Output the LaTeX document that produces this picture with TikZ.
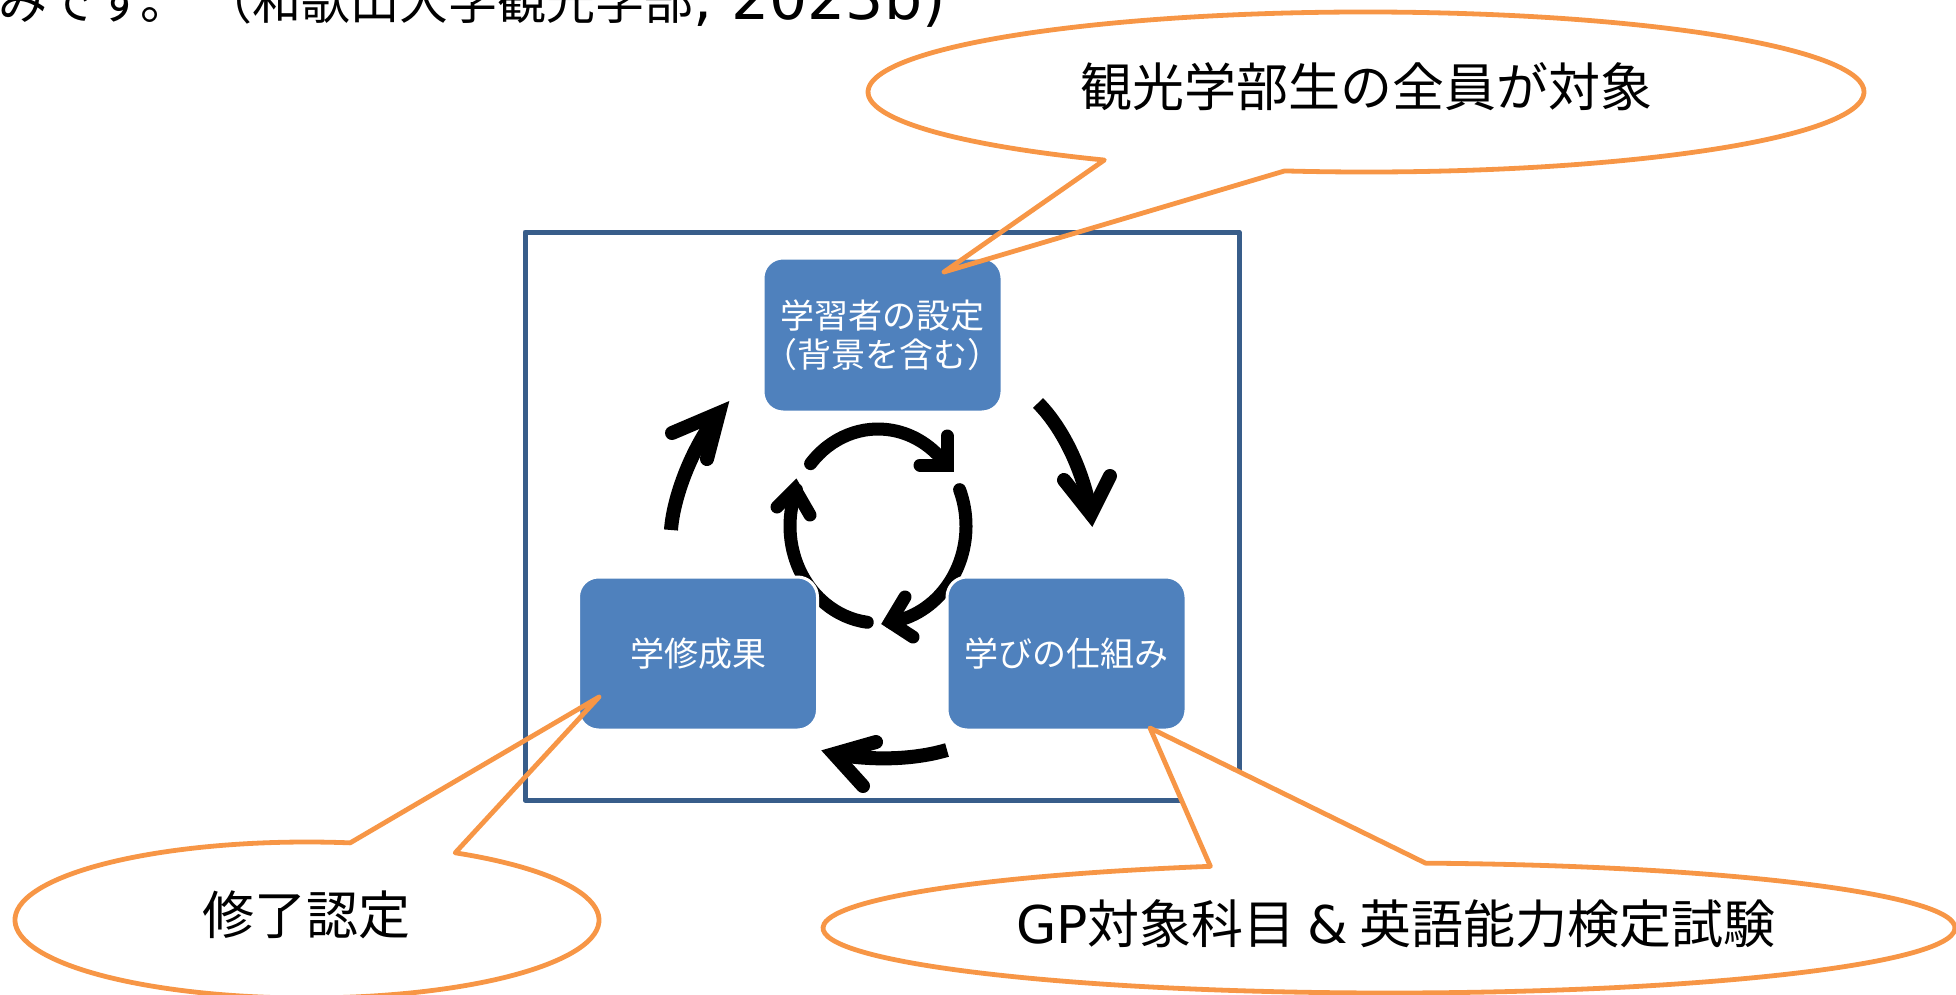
\documentclass[tikz,border=0pt]{standalone}
\usepackage{fontspec}
\newfontfamily\cjk{Noto Sans CJK JP}
\newfontfamily\lat{DejaVu Sans}
\usetikzlibrary{calc}
\definecolor{boxblue}{HTML}{4F81BD}
\definecolor{framebl}{HTML}{385D8A}
\definecolor{callor}{HTML}{F79646}
\begin{document}
\begin{tikzpicture}[x=1pt,y=1pt,
  bluebox/.style={rectangle, rounded corners=20pt, fill=boxblue, draw=white, line width=3pt,
    minimum width=239pt, minimum height=154pt, text=white, align=center, inner sep=0pt,
    font={\cjk\fontsize{34}{39}\selectfont}},
  bigarrow/.style={line width=14pt, black},
  barbs/.style={line width=14pt, black, line cap=round, line join=miter},
  cycarc/.style={line width=13pt, black, line cap=round},
  cychev/.style={line width=13pt, black, line cap=round, line join=miter},
  calloutline/.style={draw=callor, line width=4.8pt, line join=round},
  bigtext/.style={font={\cjk\fontsize{52}{60}\selectfont}, text=black, inner sep=0pt}
]
\useasboundingbox (0,0) rectangle (1956,-995);
\clip (0,0) rectangle (1956,-995);

% outer frame
\draw[framebl, line width=5pt, line join=round] (525,-232) rectangle (1239,-800);

% inner cycle
\coordinate (cc) at (878,-526);
\draw[cycarc] ($(cc)+(140:88 and 97)$) arc[start angle=140, end angle=39, x radius=88, y radius=97];
\draw[cychev] (947,-436) -- (947,-465) -- (920,-465);
\draw[cycarc] ($(cc)+(22:88 and 97)$) arc[start angle=22, end angle=-82, x radius=88, y radius=97];
\draw[cychev] (905,-597) -- (890,-622) -- (913,-637);
\draw[cycarc] ($(cc)+(-97:88 and 97)$) arc[start angle=-97, end angle=-202, x radius=88, y radius=97];
\draw[cychev] (777,-507) -- (795,-489) -- (810,-515);

% boxes
\node[bluebox] (top) at (882.5,-335) {学習者の設定\\（背景を含む）};
\node[bluebox, minimum height=153pt] (left) at (698,-653.5) {学修成果};
\node[bluebox, minimum height=153pt] (right) at (1066.5,-653.5) {学びの仕組み};

% big arrows between boxes
\coordinate (a1) at (671,-530);
\coordinate (a2) at (719,-413);
\draw[bigarrow] (a1) .. controls (673,-500) and (690,-450) .. (a2);
\draw[barbs] (672,-433) -- (a2) -- (707,-459);

\coordinate (b1) at (1038,-403);
\coordinate (b2) at (1091,-514);
\draw[bigarrow] (b1) .. controls (1060,-425) and (1082,-465) .. (b2);
\draw[barbs] (1064,-480) -- (b2) -- (1110,-476);

\coordinate (c1) at (947,-750);
\coordinate (c2) at (834,-754);
\draw[bigarrow] (c1) .. controls (920,-758) and (880,-762) .. (c2);
\draw[barbs] (876,-742) -- (c2) -- (863,-786);

% callouts
\coordinate (k1) at (1366,-92);
\coordinate (k1tip) at (944,-272);
\draw[calloutline] ($(k1)+(238.3:498 and 80)$) -- (k1tip) -- ($(k1)+(260.6:498 and 80)$)
  arc[start angle=260.6, end angle=598.3, x radius=498, y radius=80] -- cycle;

\coordinate (k2) at (307,-920);
\coordinate (k2tip) at (599,-697);
\draw[calloutline] ($(k2)+(81.5:292 and 78)$) -- (k2tip) -- ($(k2)+(59.5:292 and 78)$)
  arc[start angle=59.5, end angle=-278.5, x radius=292, y radius=78] -- cycle;

\coordinate (k3) at (1389,-928);
\coordinate (k3tip) at (1150,-728);
\draw[calloutline, fill=white] ($(k3)+(108.4:566 and 65)$) -- (k3tip) -- ($(k3)+(86.3:566 and 65)$)
  arc[start angle=86.3, end angle=-251.6, x radius=566, y radius=65] -- cycle;

% callout texts
\node[bigtext] (t1) at (1366,-87) {観光学部生の全員が対象};
\node[bigtext] (t2) at (306,-915) {修了認定};
\node[bigtext] (t3) at (1396,-924) {{\lat GP}対象科目 {\lat\&} 英語能力検定試験};

% clipped citation line at the top
\node[anchor=base west, inner sep=0pt, text=black] (cite) at (-2,-20)
  {\cjk\fontsize{49}{56}\selectfont みです。\hspace{14pt}（和歌山大学観光学部{\lat\fontsize{60}{64}\selectfont , 2023b)}};
\end{tikzpicture}
\end{document}
